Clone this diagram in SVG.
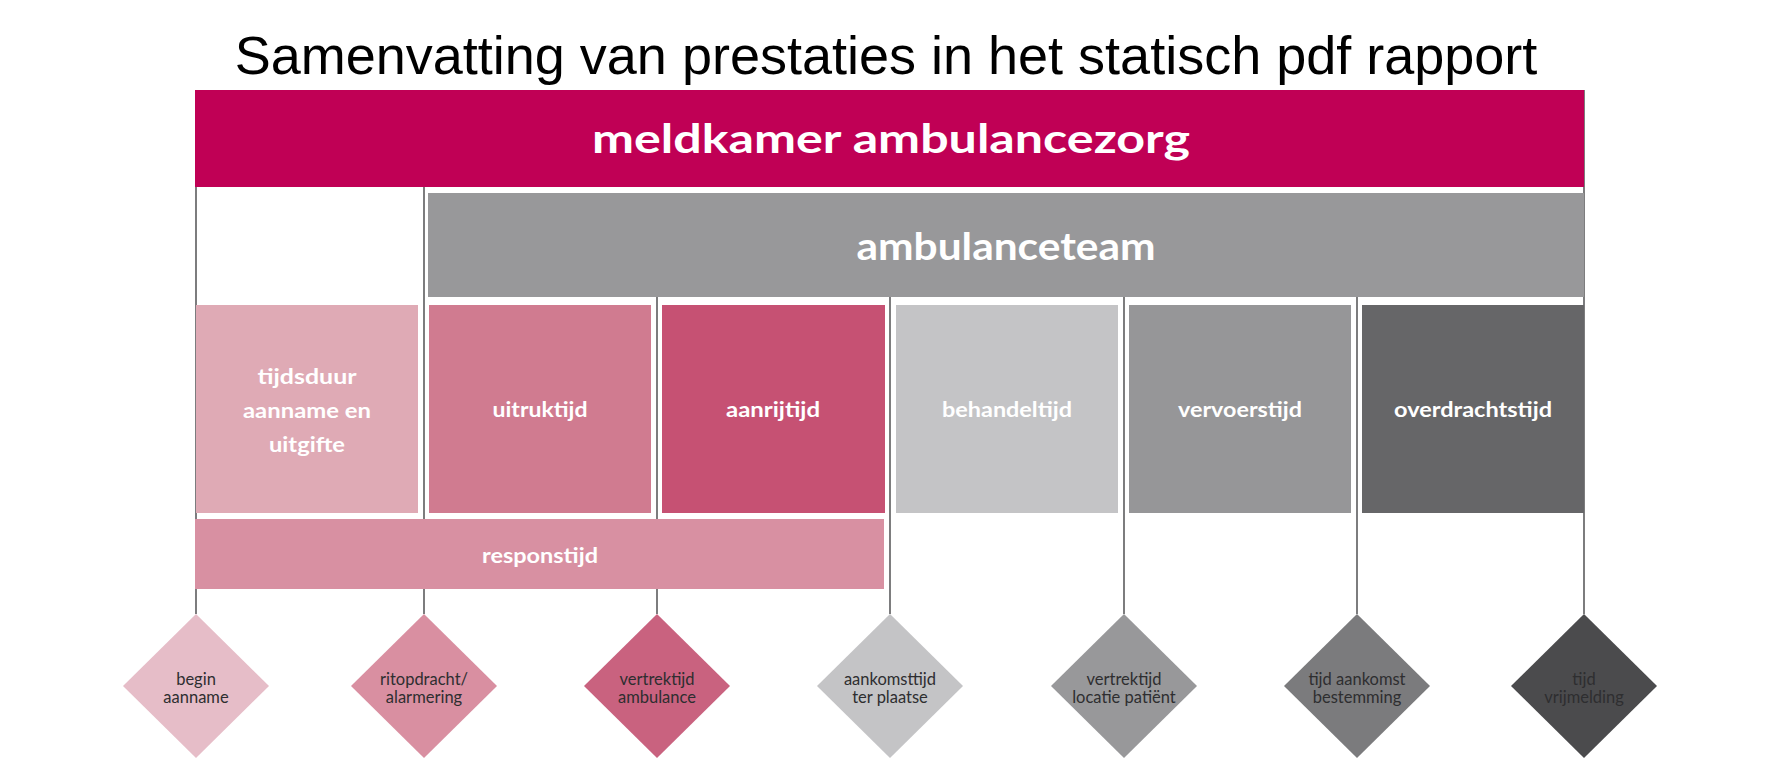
<svg xmlns="http://www.w3.org/2000/svg" width="1772" height="762" viewBox="0 0 1772 762">
<style>
.title{font-family:"Liberation Sans",Arial,sans-serif;font-size:54px;fill:#000;text-anchor:middle}
.big{font-family:Lato,"Open Sans",sans-serif;font-weight:bold;fill:#fff;text-anchor:middle}
.lbl{font-family:Lato,"Open Sans",sans-serif;font-weight:bold;font-size:20px;fill:#fff;text-anchor:middle}
.dl{font-family:Lato,"Open Sans",sans-serif;font-size:16.5px;fill:#2e2e30;text-anchor:middle}
.ln{stroke:#5c5c5e;stroke-width:1.6;fill:none}
</style>
<rect width="1772" height="762" fill="#fff"/>
<text class="title" x="886" y="74">Samenvatting van prestaties in het statisch pdf rapport</text>

<g id="connectors">
<line class="ln" x1="196" y1="187" x2="196" y2="614"/>
<line class="ln" x1="424" y1="187" x2="424" y2="614"/>
<line class="ln" x1="657" y1="297" x2="657" y2="614"/>
<line class="ln" x1="890" y1="297" x2="890" y2="614"/>
<line class="ln" x1="1124" y1="297" x2="1124" y2="614"/>
<line class="ln" x1="1357" y1="297" x2="1357" y2="614"/>
<line class="ln" x1="1584" y1="90" x2="1584" y2="614"/>
</g>

<g id="meldkamer">
<rect x="195" y="90" width="1389" height="97" fill="#c00055"/>
<text class="big" x="891" y="153" font-size="40" textLength="598" lengthAdjust="spacingAndGlyphs">meldkamer ambulancezorg</text>
</g>
<g id="ambulanceteam">
<rect x="428" y="193" width="1156" height="104" fill="#98989a"/>
<text class="big" x="1006" y="260" font-size="38" textLength="299" lengthAdjust="spacingAndGlyphs">ambulanceteam</text>
</g>

<g id="tijdsduur">
<rect x="196" y="305" width="222" height="208" fill="#dfaab5"/>
<text class="lbl" x="307" y="384" textLength="99" lengthAdjust="spacingAndGlyphs">tijdsduur</text>
<text class="lbl" x="307" y="418" textLength="128" lengthAdjust="spacingAndGlyphs">aanname en</text>
<text class="lbl" x="307" y="452" textLength="76" lengthAdjust="spacingAndGlyphs">uitgifte</text>
</g>
<g id="uitruktijd">
<rect x="429" y="305" width="222" height="208" fill="#d07b90"/>
<text class="lbl" x="540" y="417" textLength="95" lengthAdjust="spacingAndGlyphs">uitruktijd</text>
</g>
<g id="aanrijtijd">
<rect x="662" y="305" width="223" height="208" fill="#c65173"/>
<text class="lbl" x="773" y="417" textLength="94" lengthAdjust="spacingAndGlyphs">aanrijtijd</text>
</g>
<g id="behandeltijd">
<rect x="896" y="305" width="222" height="208" fill="#c4c4c6"/>
<text class="lbl" x="1007" y="417" textLength="130" lengthAdjust="spacingAndGlyphs">behandeltijd</text>
</g>
<g id="vervoerstijd">
<rect x="1129" y="305" width="222" height="208" fill="#969698"/>
<text class="lbl" x="1240" y="417" textLength="124" lengthAdjust="spacingAndGlyphs">vervoerstijd</text>
</g>
<g id="overdrachtstijd">
<rect x="1362" y="305" width="222" height="208" fill="#666668"/>
<text class="lbl" x="1473" y="417" textLength="158" lengthAdjust="spacingAndGlyphs">overdrachtstijd</text>
</g>
<g id="responstijd">
<rect x="195" y="519" width="689" height="70" fill="#d890a2"/>
<text class="lbl" x="540" y="563" textLength="116" lengthAdjust="spacingAndGlyphs">responstijd</text>
</g>

<g id="d-begin">
<polygon points="196,614 269,686 196,758 123,686" fill="#e6bdc8"/>
<text class="dl" x="196" y="685">begin</text>
<text class="dl" x="196" y="703">aanname</text>
</g>
<g id="d-ritopdracht">
<polygon points="424,614 497,686 424,758 351,686" fill="#d98fa1"/>
<text class="dl" x="424" y="685">ritopdracht/</text>
<text class="dl" x="424" y="703">alarmering</text>
</g>
<g id="d-vertrek-amb">
<polygon points="657,614 730,686 657,758 584,686" fill="#c9627f"/>
<text class="dl" x="657" y="685">vertrektijd</text>
<text class="dl" x="657" y="703">ambulance</text>
</g>
<g id="d-aankomst">
<polygon points="890,614 963,686 890,758 817,686" fill="#c4c4c6"/>
<text class="dl" x="890" y="685">aankomsttijd</text>
<text class="dl" x="890" y="703">ter plaatse</text>
</g>
<g id="d-vertrek-loc">
<polygon points="1124,614 1197,686 1124,758 1051,686" fill="#98989a"/>
<text class="dl" x="1124" y="685">vertrektijd</text>
<text class="dl" x="1124" y="703">locatie patiënt</text>
</g>
<g id="d-bestemming">
<polygon points="1357,614 1430,686 1357,758 1284,686" fill="#7b7b7d"/>
<text class="dl" x="1357" y="685">tijd aankomst</text>
<text class="dl" x="1357" y="703">bestemming</text>
</g>
<g id="d-vrijmelding">
<polygon points="1584,614 1657,686 1584,758 1511,686" fill="#4b4b4d"/>
<text class="dl" x="1584" y="685">tijd</text>
<text class="dl" x="1584" y="703">vrijmelding</text>
</g>
</svg>
